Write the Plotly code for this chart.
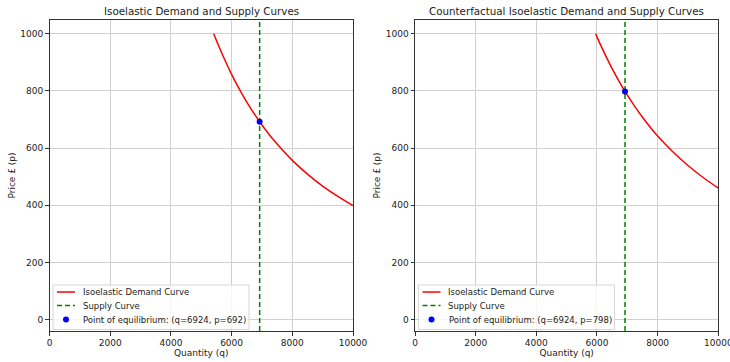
import plotly.graph_objects as go

# Data
q_left = [5410, 5600, 5800, 6000, 6250, 6500, 6924, 7250, 7500, 8000, 8500, 9000, 9500, 10000]
p_left = [1000, 951, 903, 858, 807, 761, 692, 646, 614, 557, 509, 467, 431, 399]
q_right = [5957, 6000, 6250, 6500, 6924, 7250, 7500, 8000, 8500, 9000, 9500, 10000]
p_right = [1000, 989, 931, 878, 798, 745, 708, 642, 587, 539, 497, 460]
supply_q = 6924
eq_left = (6924, 692)
eq_right = (6924, 798)
titles = ["Isoelastic Demand and Supply Curves", "Counterfactual Isoelastic Demand and Supply Curves"]
x_ticks = [0, 2000, 4000, 6000, 8000, 10000]
y_ticks = [0, 200, 400, 600, 800, 1000]
legend_labels = ["Isoelastic Demand Curve", "Supply Curve", "Point of equilibrium: (q={q}, p={p})"]
y_range = [-40, 1048]
x_range = [0, 10000]

W, H = 730, 362
fnt = "DejaVu Sans"
fig = go.Figure()

def px(x):
    return x / W

def py(y):
    return 1 - y / H

panels = [
    dict(q=q_left, p=p_left, eq=eq_left, xa="x", ya="y", x0=49.5, x1=353),
    dict(q=q_right, p=p_right, eq=eq_right, xa="x2", ya="y2", x0=415, x1=718.3),
]
ytop, ybot = 20, 331
ydom = [py(ybot), py(ytop)]

for i, pn in enumerate(panels):
    fig.add_trace(go.Scatter(x=pn["q"], y=pn["p"], mode="lines", line=dict(color="red", width=1.5, shape="spline"),
                             name=legend_labels[0], xaxis=pn["xa"], yaxis=pn["ya"], showlegend=False))
    fig.add_trace(go.Scatter(x=[supply_q, supply_q], y=y_range, mode="lines",
                             line=dict(color="green", width=1.5, dash="5px,3px"),
                             name=legend_labels[1], xaxis=pn["xa"], yaxis=pn["ya"], showlegend=False))
    fig.add_trace(go.Scatter(x=[pn["eq"][0]], y=[pn["eq"][1]], mode="markers", marker=dict(color="blue", size=6),
                             name=legend_labels[2].format(q=pn["eq"][0], p=pn["eq"][1]),
                             xaxis=pn["xa"], yaxis=pn["ya"], showlegend=False))

axis_common = dict(showgrid=True, gridcolor="#d0d0d0", gridwidth=1, showline=True, linecolor="#333", linewidth=1,
                   mirror=True, ticks="outside", ticklen=3.5, tickcolor="#333", zeroline=False, automargin=False,
                   ticklabeloverflow="allow",
                   tickfont=dict(family=fnt, size=9, color="#222"))

layout = dict(
    width=W, height=H, margin=dict(l=0, r=0, t=0, b=0, autoexpand=False), paper_bgcolor="white",
    plot_bgcolor="white", font=dict(family=fnt, size=9, color="#222"),
    showlegend=False,
)
for i, pn in enumerate(panels):
    sfx = "" if i == 0 else "2"
    layout["xaxis" + sfx] = dict(axis_common, domain=[px(pn["x0"]), px(pn["x1"])], range=x_range,
                                 tickvals=x_ticks, ticktext=[str(t) for t in x_ticks],
                                 anchor="y" + sfx,
                                 title=dict(text="Quantity (q)", font=dict(family=fnt, size=9), standoff=2))
    layout["yaxis" + sfx] = dict(axis_common, domain=ydom, range=y_range, tickvals=y_ticks,
                                 anchor="x" + sfx,
                                 title=dict(text="Price £ (p)", font=dict(family=fnt, size=9), standoff=3))
fig.update_layout(**layout)

shapes = []
for i, pn in enumerate(panels):
    x0 = pn["x0"]
    fig.add_annotation(text=titles[i], x=px((pn["x0"] + pn["x1"]) / 2), y=py(11), xref="paper", yref="paper",
                       showarrow=False, font=dict(family=fnt, size=10.3, color="#222"),
                       xanchor="center", yanchor="middle")
    # legend box
    shapes.append(dict(type="rect", xref="paper", yref="paper", x0=px(x0 + 3.5), x1=px(x0 + 199.5),
                       y0=py(329.5), y1=py(285), line=dict(color="#d6d6d6", width=1),
                       fillcolor="rgba(255,255,255,0.8)", layer="above"))
    rows = [292, 305.5, 319.5]
    shapes.append(dict(type="line", xref="paper", yref="paper", x0=px(x0 + 7.5), x1=px(x0 + 25.5),
                       y0=py(rows[0]), y1=py(rows[0]), line=dict(color="red", width=1.5), layer="above"))
    shapes.append(dict(type="line", xref="paper", yref="paper", x0=px(x0 + 7.5), x1=px(x0 + 25.5),
                       y0=py(rows[1]), y1=py(rows[1]), line=dict(color="green", width=1.5, dash="5px,3px"),
                       layer="above"))
    shapes.append(dict(type="circle", xref="paper", yref="paper", x0=px(x0 + 13.5), x1=px(x0 + 19.5),
                       y0=py(rows[2] + 3), y1=py(rows[2] - 3), line=dict(color="blue", width=0),
                       fillcolor="blue", layer="above"))
    labels = [legend_labels[0], legend_labels[1], legend_labels[2].format(q=pn["eq"][0], p=pn["eq"][1])]
    for r, lab in zip(rows, labels):
        fig.add_annotation(text=lab, x=px(x0 + 31.5), y=py(r), xref="paper", yref="paper", showarrow=False,
                           xanchor="left", yanchor="middle", font=dict(family=fnt, size=8.5, color="#222"))
fig.update_layout(shapes=shapes)

fig.write_html("out.html")
